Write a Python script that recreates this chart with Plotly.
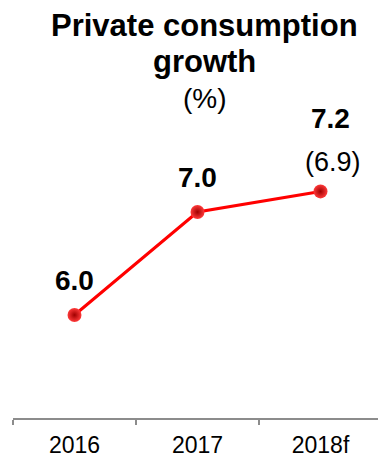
import plotly.graph_objects as go

categories = ["2016", "2017", "2018f"]
growth = [6.0, 7.0, 7.2]
previous_forecast = [None, None, 6.9]
title_lines = ["Private consumption", "growth"]
unit_text = "(%)"

FONT = "Liberation Sans, Arial, sans-serif"

fig = go.Figure()
fig.add_trace(go.Scatter(
    x=categories, y=growth, mode="lines+markers",
    line=dict(color="#ff0000", width=3),
    marker=dict(size=14, color="#ff3a3a",
                gradient=dict(type="radial", color="#a00000"),
                line=dict(width=0)),
    hoverinfo="skip", showlegend=False,
))

annotations = []
for i, v in enumerate(growth):
    last = i == len(categories) - 1
    annotations.append(dict(
        x=i, y=v, xref="x", yref="y", text=f"<b>{v:.1f}</b>", showarrow=False,
        font=dict(family=FONT, size=28, color="#000"),
        yshift=73 if last else 35, xshift=10 if last else 0,
    ))
for i, (v, p) in enumerate(zip(growth, previous_forecast)):
    if p is not None:
        annotations.append(dict(
            x=i, y=v, xref="x", yref="y", text=f"({p:.1f})", showarrow=False,
            font=dict(family=FONT, size=27, color="#000"),
            yshift=29, xshift=12,
        ))

fig.update_layout(
    width=378, height=458,
    margin=dict(l=13, r=0, t=109, b=40),
    paper_bgcolor="white", plot_bgcolor="white",
    font=dict(family=FONT, color="#000"),
    annotations=annotations,
    xaxis=dict(
        type="category", range=[-0.5, 2.4675],
        showline=True, linecolor="#8c8c8c", linewidth=2,
        ticks="outside", tickson="boundaries", ticklen=5, tickwidth=2, tickcolor="#8c8c8c",
        tickfont=dict(family=FONT, size=23, color="#000"),
        ticklabelstandoff=5,
        showgrid=False, zeroline=False, fixedrange=True,
    ),
    yaxis=dict(range=[5, 8], visible=False, showgrid=False, zeroline=False, fixedrange=True),
)

plot_h = 458 - 109 - 40
plot_w = 378 - 13
def paper_x(px):
    return (px - 13) / plot_w
def paper_y(py):
    return (458 - 40 - py) / plot_h

fig.add_annotation(x=paper_x(205), y=paper_y(26), xref="paper", yref="paper",
                   text=f"<b>{title_lines[0]}</b>", showarrow=False,
                   font=dict(family=FONT, size=31, color="#000"), yanchor="middle")
fig.add_annotation(x=paper_x(205), y=paper_y(61), xref="paper", yref="paper",
                   text=f"<b>{title_lines[1]}</b>", showarrow=False,
                   font=dict(family=FONT, size=31, color="#000"), yanchor="middle")
fig.add_annotation(x=paper_x(205), y=paper_y(98), xref="paper", yref="paper",
                   text=unit_text, showarrow=False,
                   font=dict(family=FONT, size=28, color="#000"), yanchor="middle")

fig.write_html("out.html", config={"displayModeBar": False})
